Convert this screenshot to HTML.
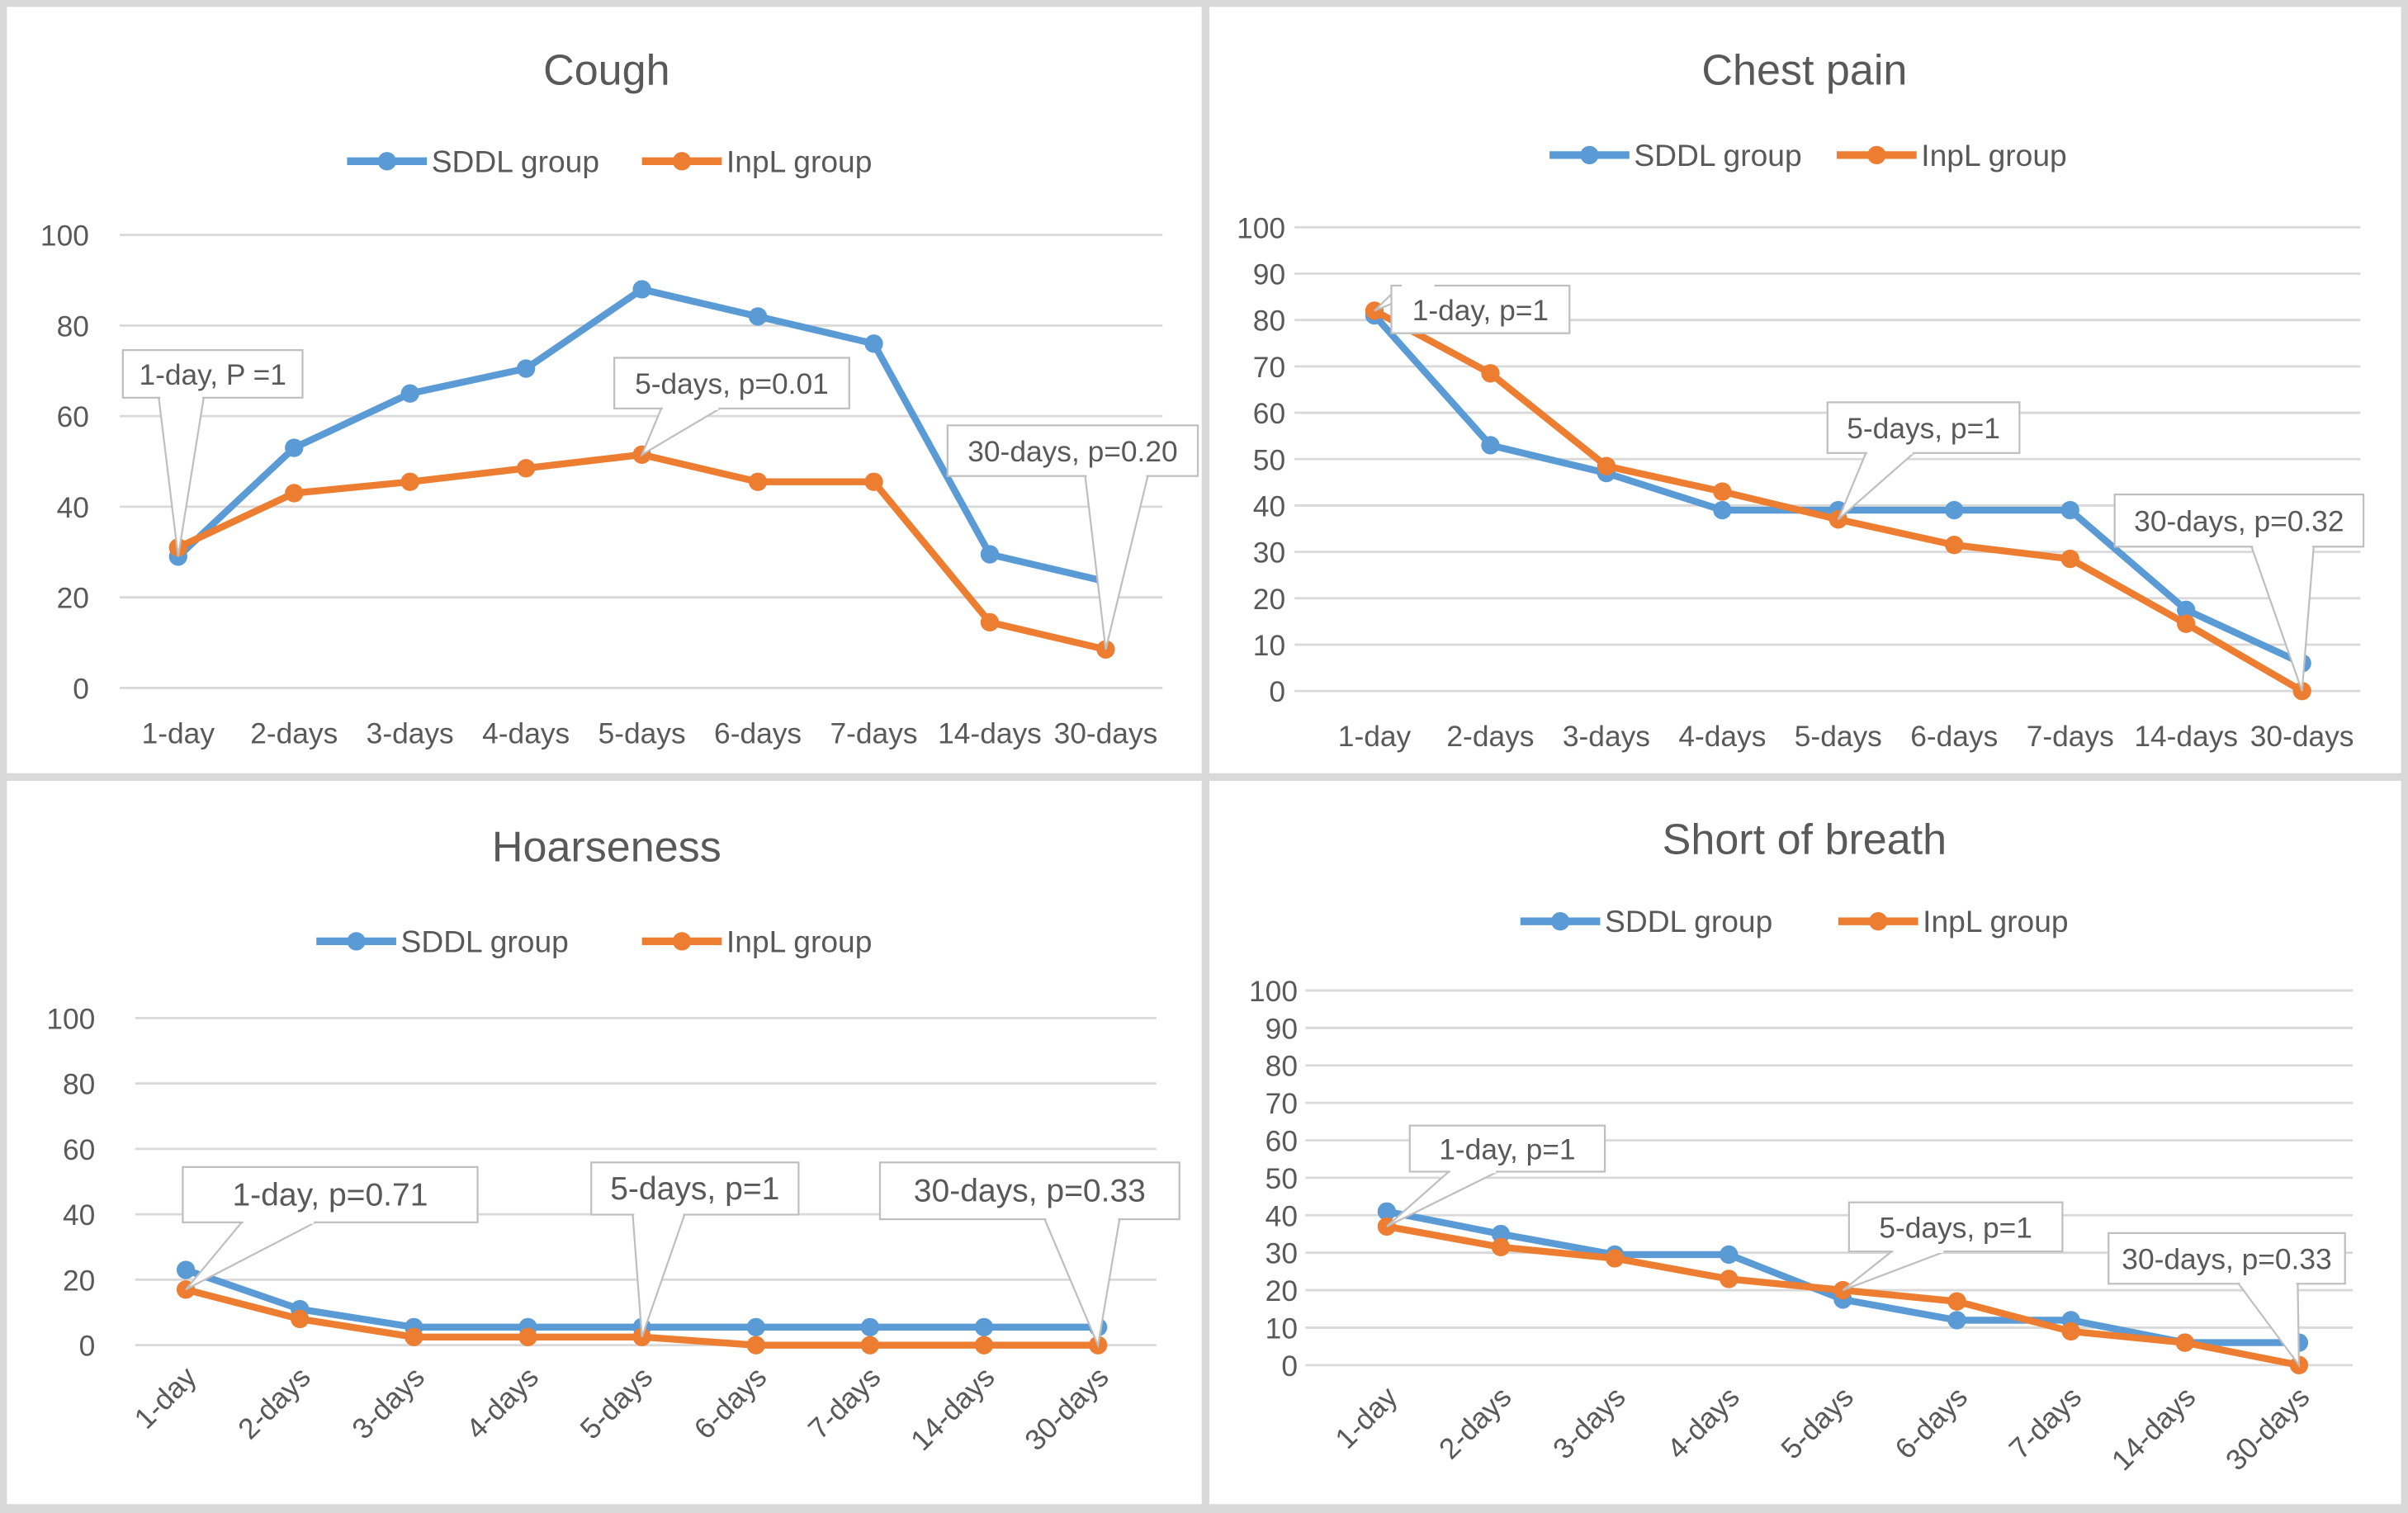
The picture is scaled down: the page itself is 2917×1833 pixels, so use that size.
<!DOCTYPE html>
<html><head><meta charset="utf-8">
<style>
html,body{margin:0;padding:0;background:#fff;}
svg{display:block;}
text{font-family:"Liberation Sans",sans-serif;fill:#595959;}
</style></head>
<body>
<svg id="fig" width="2917" height="1833" viewBox="0 0 1568 985.3" preserveAspectRatio="none" xmlns="http://www.w3.org/2000/svg">
<rect x="0" y="0" width="1568" height="985.3" fill="#d9d9d9"/>
</svg>
<script>
const categories = ["1-day","2-days","3-days","4-days","5-days","6-days","7-days","14-days","30-days"];
const coughSDDL = [29,53,65,70.5,88,82,76,29.5,23.5];
const coughInpL = [31,43,45.5,48.5,51.5,45.5,45.5,14.5,8.5];
const coughTicks = [0,20,40,60,80,100];
const chestSDDL = [81,53,47,39,39,39,39,17.5,6];
const chestInpL = [82,68.5,48.5,43,37,31.5,28.5,14.5,0];
const chestTicks = [0,10,20,30,40,50,60,70,80,90,100];
const hoarseSDDL = [23,11,5.5,5.5,5.5,5.5,5.5,5.5,5.5];
const hoarseInpL = [17,8,2.5,2.5,2.5,0,0,0,0];
const hoarseTicks = [0,20,40,60,80,100];
const breathSDDL = [41,35,29.5,29.5,17.5,12,12,6,6];
const breathInpL = [37,31.5,28.5,23,20,17,9,6,0];
const breathTicks = [0,10,20,30,40,50,60,70,80,90,100];
const coughNotes = ["1-day, P =1","5-days, p=0.01","30-days, p=0.20"];
const chestNotes = ["1-day, p=1","5-days, p=1","30-days, p=0.32"];
const hoarseNotes = ["1-day, p=0.71","5-days, p=1","30-days, p=0.33"];
const breathNotes = ["1-day, p=1","5-days, p=1","30-days, p=0.33"];

const NS="http://www.w3.org/2000/svg";
const svg=document.getElementById('fig');
function mk(tag,attrs,parent){const e=document.createElementNS(NS,tag);for(const k in attrs)e.setAttribute(k,attrs[k]);(parent||svg).appendChild(e);return e;}

const layouts=[
 {name:"cough",title:"Cough",sddl:coughSDDL,inpl:coughInpL,ticks:coughTicks,notes:coughNotes,
  panel:[4,4,779,500],tx:395,ty:45,ly:105,lx:[252,444],y0:448,y100:153,gx0:78,gx1:757,x0:116,x1:720,rot:false,ylx:58,
  boxes:[[80,228,197,259,0,"SDDL"],[400,233,553,266,4,"InpL"],[617,277,780,310,8,"InpL"]]},
 {name:"chest-pain",title:"Chest pain",sddl:chestSDDL,inpl:chestInpL,ticks:chestTicks,notes:chestNotes,
  panel:[787,4,777,500],tx:1175,ty:45,ly:101,lx:[1035,1222],y0:450,y100:148,gx0:843,gx1:1537,x0:895,x1:1499,rot:false,ylx:837,
  boxes:[[906,186,1022,217,0,"InpL"],[1190,262,1315,295,4,"InpL"],[1377,322,1539,356,8,"InpL"]]},
 {name:"hoarseness",title:"Hoarseness",sddl:hoarseSDDL,inpl:hoarseInpL,ticks:hoarseTicks,notes:hoarseNotes,
  panel:[4,508,779,472],tx:395,ty:551,ly:613,lx:[232,444],y0:876,y100:663,gx0:88,gx1:753,x0:121,x1:715,rot:true,ylx:62,
  boxes:[[119,760,311,796,0,"InpL"],[385,757,520,791,4,"InpL"],[573,757,768,794,8,"InpL"]]},
 {name:"short-of-breath",title:"Short of breath",sddl:breathSDDL,inpl:breathInpL,ticks:breathTicks,notes:breathNotes,
  panel:[787,508,777,472],tx:1175,ty:546,ly:600,lx:[1016,1223],y0:889,y100:645,gx0:850,gx1:1532,x0:903,x1:1497,rot:true,ylx:845,
  boxes:[[918,733,1045,763,0,"InpL"],[1204,783,1343,815,4,"InpL"],[1373,803,1527,836,8,"InpL"]]}
];

layouts.forEach(L=>{
  const g=mk('g',{});
  
  
  const p=mk('rect',{x:L.panel[0],y:L.panel[1],width:L.panel[2],height:L.panel[3],fill:'#fff',stroke:'#d9d9d9','stroke-width':1},g);
  
  
  const t=mk('text',{x:L.tx,y:L.ty+10,'text-anchor':'middle','font-size':28},g);t.textContent=L.title;
  
  
  const ymax=L.ticks[L.ticks.length-1];
  const Y=v=>L.y0-(v/ymax)*(L.y0-L.y100);
  const X=i=>L.x0+i*(L.x1-L.x0)/(categories.length-1);
  L.ticks.forEach(v=>{
    const gl=mk('line',{x1:L.gx0,x2:L.gx1,y1:Y(v),y2:Y(v),stroke:'#d9d9d9','stroke-width':1.5},g);
    
    
    const tl=mk('text',{x:L.ylx,y:Y(v)+7,'text-anchor':'end','font-size':19},g);tl.textContent=v;
    
    
  });
  categories.forEach((c,i)=>{
    let tl;
    if(L.rot){tl=mk('text',{x:X(i)+8,y:L.y0+22,'text-anchor':'end','font-size':19,transform:`rotate(-45 ${X(i)+8} ${L.y0+22})`},g);}
    else{tl=mk('text',{x:X(i),y:L.y0+36,'text-anchor':'middle','font-size':19},g);}
    tl.textContent=c;
    
    
  });
  [[L.sddl,'#5b9bd5','SDDL group'],[L.inpl,'#ed7d31','InpL group']].forEach(([d,col,lab],si)=>{
    const pts=d.map((v,i)=>X(i)+','+Y(v)).join(' ');
    const pl=mk('polyline',{points:pts,fill:'none',stroke:col,'stroke-width':4.5,'stroke-linejoin':'round'},g);
    
    
    d.forEach((v,i)=>{
      const c=mk('circle',{cx:X(i),cy:Y(v),r:6,fill:col},g);
      
      
    });
    const lx=L.lx[si];
    const le=mk('g',{},g);
    
    
    mk('line',{x1:lx-26,x2:lx+26,y1:L.ly,y2:L.ly,stroke:col,'stroke-width':5},le);
    mk('circle',{cx:lx,cy:L.ly,r:6,fill:col},le);
    const lt=mk('text',{x:lx+29,y:L.ly+7,'font-size':20},le);lt.textContent=lab;
  });
  L.boxes.forEach((b,k)=>{
    const [bx1,by1,bx2,by2,idx,ser]=b;
    const d=ser==="SDDL"?L.sddl:L.inpl;
    const px=X(idx),py=Y(d[idx]);
    const cg=mk('g',{},g);
    
    
    const w=bx2-bx1;
    const below=py>by2;
    let a1,a2,ey;
    if(below){ey=by2;a1=bx1+w*0.2;a2=bx1+w*0.45;if(px>bx1+w*0.6){a1=bx1+w*0.55;a2=bx1+w*0.8;}}
    else{ey=by1;a1=bx1+w*0.05;a2=bx1+w*0.25;}
    mk('polygon',{points:`${a1},${ey} ${px},${py} ${a2},${ey}`,fill:'#fff',stroke:'#bfbfbf','stroke-width':1.2},cg);
    mk('rect',{x:bx1,y:by1,width:w,height:by2-by1,fill:'#fff',stroke:'#bfbfbf','stroke-width':1.2},cg);
    mk('line',{x1:a1+1,x2:a2-1,y1:ey,y2:ey,stroke:'#fff','stroke-width':2},cg);
    const ct=mk('text',{x:(bx1+bx2)/2,y:(by1+by2)/2+7,'text-anchor':'middle','font-size':L.rot&&L.name==='hoarseness'?21:19},cg);
    ct.textContent=L.notes[k];
  });
});
</script>
</body></html>
